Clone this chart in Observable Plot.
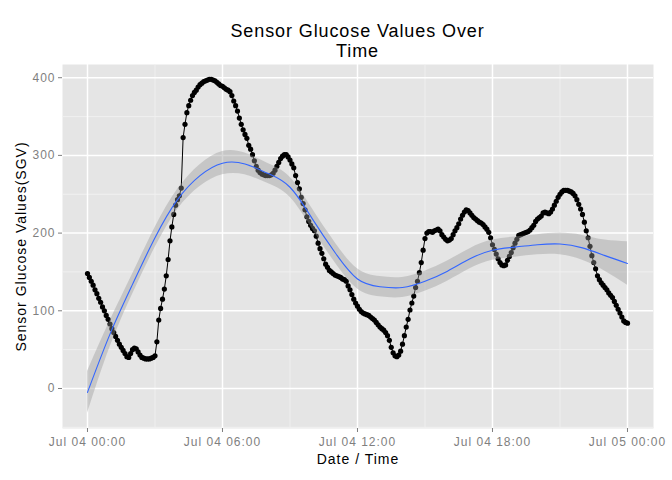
<!DOCTYPE html>
<html><head><meta charset="utf-8">
<script src="https://cdn.jsdelivr.net/npm/d3@7"></script>
<script src="https://cdn.jsdelivr.net/npm/@observablehq/plot@0.6"></script>
<style>
body{margin:0;background:#fff;font-family:"Liberation Sans",Arial,sans-serif;}
#title{height:64px;box-sizing:border-box;margin-left:62px;width:591px;text-align:center;font-size:18px;letter-spacing:0.9px;line-height:20px;padding-top:21px;color:#000;}
</style></head><body>
<div id="title">Sensor Glucose Values Over<br>Time</div>
<div id="chart"></div>
<script>
// Sensor glucose readings, one every 5 minutes from Jul 04 00:00 to Jul 05 00:00
const startTime = Date.UTC(2014, 6, 4, 0, 0);
const stepMinutes = 5;
const sgv = [
  148,143,138,133,127,122,116,111,105,100,94,89,      // 00h
  83,77,72,67,62,57,53,49,45,41,40,45,                // 01h
  50,52,51,47,43,40,39,38,38,38,39,40,                // 02h
  42,60,88,103,115,128,145,166,190,208,224,236,       // 03h
  243,248,258,323,340,355,364,371,377,381,384,388,    // 04h
  391,393,395,396,397,398,398,397,396,394,392,390,    // 05h
  389,387,385,384,382,377,370,364,357,348,340,333,    // 06h
  327,322,313,308,301,293,286,281,278,276,275,274,    // 07h
  274,274,275,277,281,286,291,296,299,301,301,298,    // 08h
  294,289,284,274,265,257,246,238,230,221,215,210,    // 09h
  206,203,196,187,180,174,167,160,156,152,150,148,    // 10h
  146,145,144,143,141,140,138,132,127,121,115,110,    // 11h
  106,102,99,97,96,95,94,92,90,88,85,82,              // 12h
  79,77,75,72,68,62,53,46,42,41,43,48,                // 13h
  57,68,79,89,101,110,119,130,138,149,162,178,        // 14h
  193,200,202,202,201,203,204,205,203,198,195,192,    // 15h
  190,191,193,198,203,207,212,218,223,227,230,229,    // 16h
  226,223,220,218,216,214,213,211,208,205,201,194,    // 17h
  185,179,173,167,162,159,158,159,165,170,175,181,    // 18h
  187,192,197,198,199,200,201,202,204,207,210,215,    // 19h
  218,220,222,226,227,226,225,227,231,236,241,246,    // 20h
  250,253,255,255,255,254,253,251,248,243,237,231,    // 21h
  224,214,203,194,183,171,162,154,145,140,136,133,    // 22h
  130,127,123,120,117,112,107,102,97,92,87,85,        // 23h
  84                                                  // 24h
];

// loess smooth, at each hour
const smoothHour = [0,1,2,3,4,5,6,7,8,9,10,11,12,13,14,15,16,17,18,19,20,21,22,23,24];
const smoothFit  = [-5,70,134,194,243,274,290,289,277,259,218,175,141,131,130,138,151,167,178,182,185,186,181,171,161];
const smoothLo   = [-32,53,121,181,230,260,275,275,264,246,205,162,128,118,117,125,138,154,165,169,172,172,165,151,133];
const smoothHi   = [22,87,147,207,256,288,305,303,290,272,231,188,154,144,143,151,164,180,191,195,198,200,197,191,189];

// axis ticks
const xTickHours = [0, 6, 12, 18, 24];
const xMinorHours = [3, 9, 15, 21];
const yTicks = [0, 100, 200, 300, 400];
const yMinor = [-50, 50, 150, 250, 350];

const H = 3600 * 1000;
const toDate = h => new Date(startTime + h * H);
const data = sgv.map((v, i) => ({t: new Date(startTime + i * stepMinutes * 60000), v}));
const smooth = smoothHour.map((h, i) => ({t: toDate(h), fit: smoothFit[i], lo: smoothLo[i], hi: smoothHi[i]}));
const xTickDates = xTickHours.map(toDate);
const xMinorDates = xMinorHours.map(toDate);

const chart = Plot.plot({
  width: 672, height: 416,
  marginTop: 0, marginLeft: 62, marginRight: 19, marginBottom: 52,
  style: {fontFamily: "'Liberation Sans', Arial, sans-serif", fontSize: "12px", letterSpacing: "1px", background: "white", overflow: "visible"},
  x: {type: "utc", domain: [toDate(-1.111), toDate(25.156)], axis: null},
  y: {domain: [-51.5, 417], axis: null},
  marks: [
    Plot.frame({fill: "#e5e5e5"}),
    Plot.ruleY(yMinor, {stroke: "#f2f2f2", strokeWidth: 0.9}),
    Plot.ruleX(xMinorDates, {stroke: "#f2f2f2", strokeWidth: 0.9}),
    Plot.ruleY(yTicks, {stroke: "#ffffff", strokeWidth: 1.5}),
    Plot.ruleX(xTickDates, {stroke: "#ffffff", strokeWidth: 1.5}),
    Plot.line(data, {x: "t", y: "v", stroke: "black", strokeWidth: 1}),
    Plot.dot(data, {x: "t", y: "v", r: 2.6, fill: "black"}),
    Plot.areaY(smooth, {x: "t", y1: "lo", y2: "hi", fill: "#999999", fillOpacity: 0.4, curve: "natural"}),
    Plot.line(smooth, {x: "t", y: "fit", stroke: "#3366FF", strokeWidth: 1.1, curve: "natural"}),
    Plot.axisX(xTickDates, {tickSize: 4, tickPadding: 5, tickFormat: d3.utcFormat("%b %d %H:%M"), color: "#7f7f7f", label: null}),
    Plot.axisY(yTicks, {tickSize: 4, tickPadding: 3, color: "#7f7f7f", label: null}),
    Plot.text(["Date / Time"], {frameAnchor: "bottom", dy: 35, fontSize: 14, fill: "black"}),
    Plot.text(["Sensor Glucose Values(SGV)"], {frameAnchor: "left", textAnchor: "middle", dx: -41, rotate: -90, fontSize: 14, fill: "black"})
  ]
});
document.getElementById("chart").appendChild(chart);
</script></body></html>
